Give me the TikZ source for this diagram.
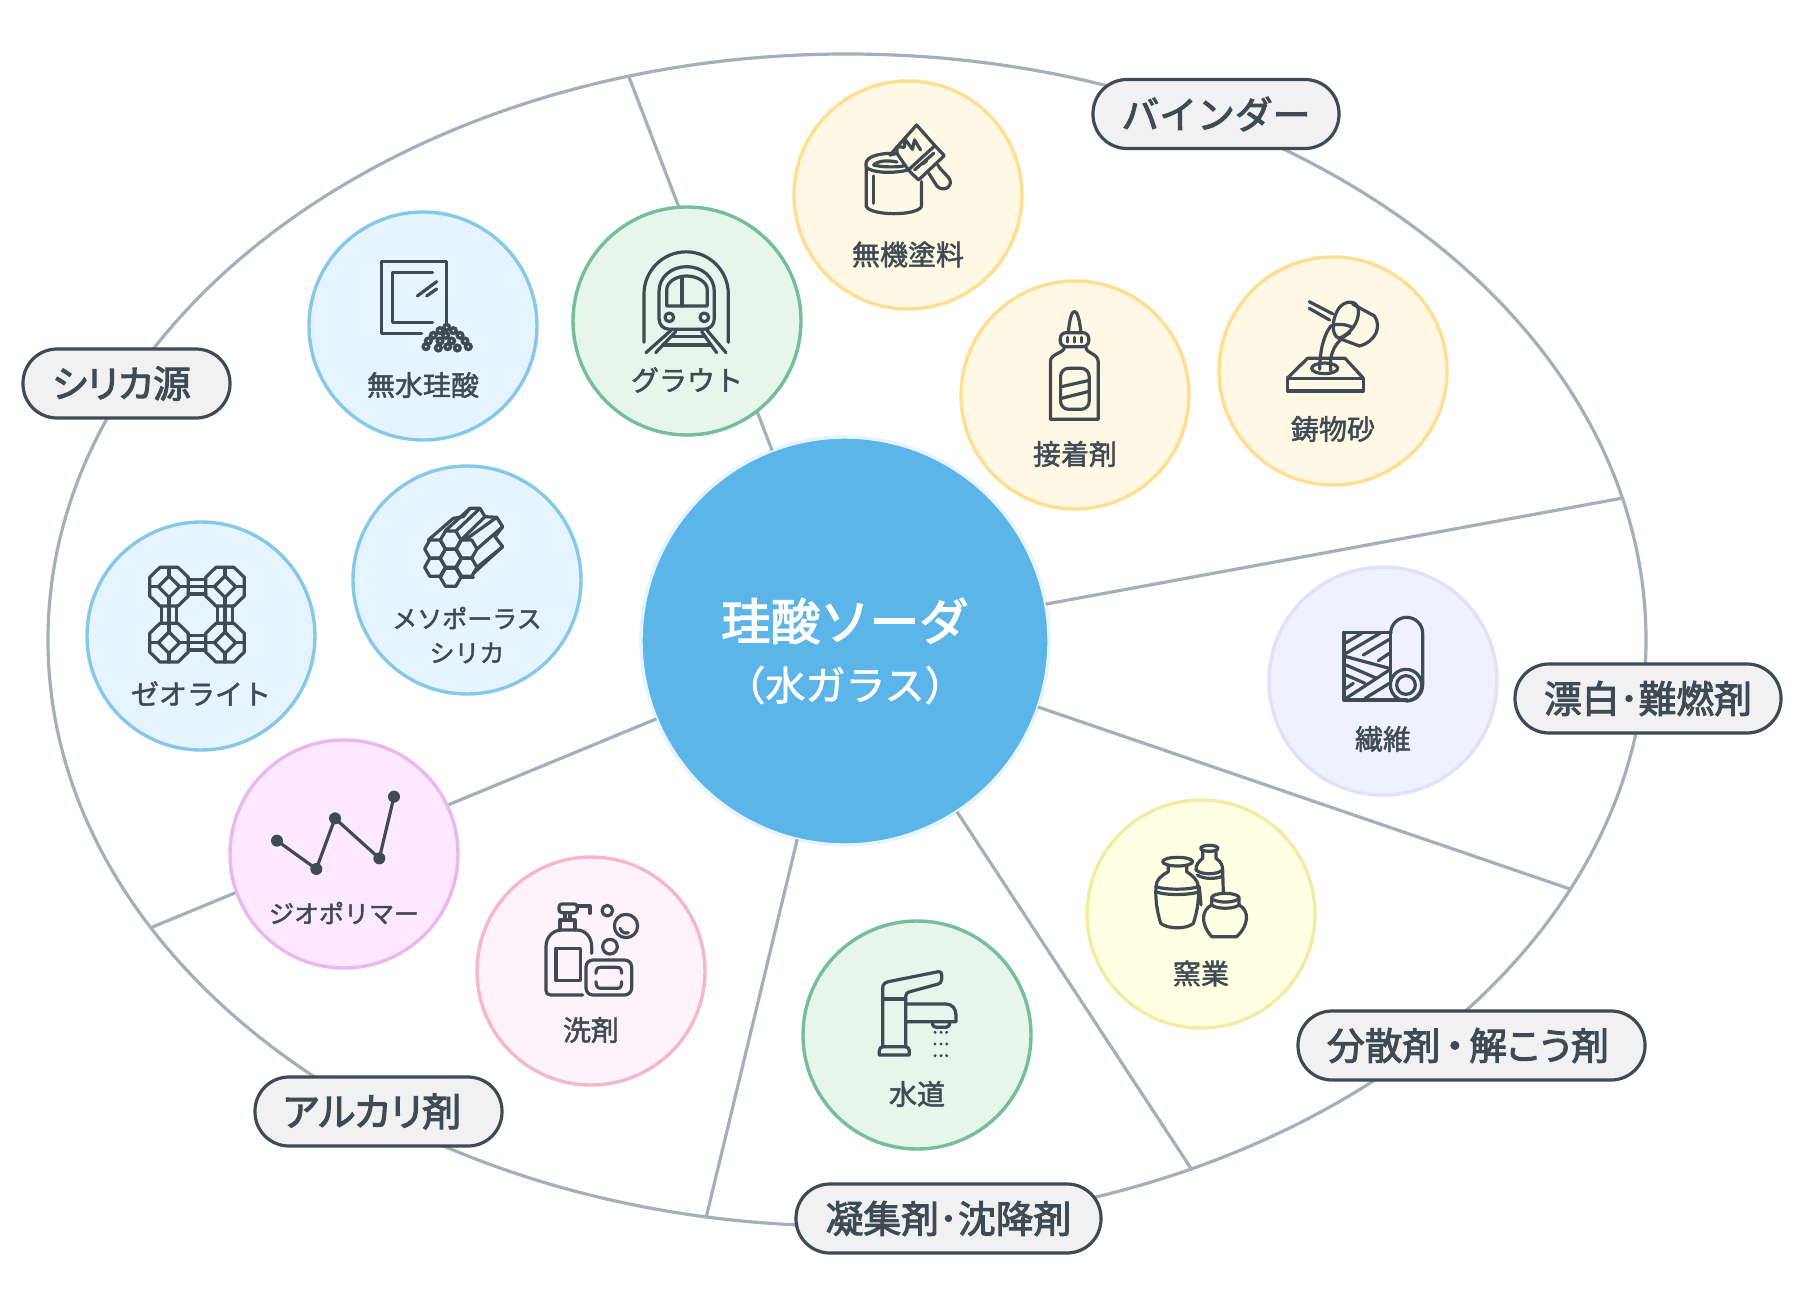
\documentclass[tikz,border=0pt]{standalone}
\usepackage{fontspec}
\newfontfamily\jp[FakeBold=2.6]{Noto Sans CJK JP}
\newfontfamily\jpk[FakeBold=2.6,RawFeature=+palt]{Noto Sans CJK JP}
\newfontfamily\jpr[FakeBold=1.7]{Noto Sans CJK JP}
\definecolor{ink}{HTML}{3F4B54}
\definecolor{rule}{HTML}{A3B0B9}
\definecolor{bF}{HTML}{E6F4FF}\definecolor{bS}{HTML}{85C9EA}
\definecolor{gF}{HTML}{E6F6EA}\definecolor{gS}{HTML}{74BF99}
\definecolor{yF}{HTML}{FFF8E5}\definecolor{yS}{HTML}{FFDF8F}
\definecolor{lF}{HTML}{F0F0FE}\definecolor{lS}{HTML}{E2E0FA}
\definecolor{pF}{HTML}{FFFFE4}\definecolor{pS}{HTML}{F2ECA4}
\definecolor{mF}{HTML}{FDE9FF}\definecolor{mS}{HTML}{EAB8EE}
\definecolor{kF}{HTML}{FEF3F9}\definecolor{kS}{HTML}{F5B6CE}
\definecolor{cF}{HTML}{5CB5E8}
\definecolor{pillF}{HTML}{F1F1F1}
\tikzset{
  disc/.style 2 args={circle,draw=#2,fill=#1,line width=3.4pt,minimum size=228pt,inner sep=0pt,outer sep=0pt},
  pill/.style={rounded corners=34pt,draw=ink,fill=pillF,line width=3.2pt,text=ink,inner sep=0pt,outer sep=0pt,minimum height=69pt,font=\jp\fontsize{37.8}{44}\selectfont},
  pillk/.style={pill,font=\jpk\fontsize{37.8}{44}\selectfont},
  cap28/.style={text=ink,inner sep=0pt,font=\jpr\fontsize{28}{34}\selectfont},
  cap25/.style={text=ink,inner sep=0pt,font=\jpr\fontsize{25}{30}\selectfont},
  divider/.style={draw=rule,line width=3.2pt},
  iconset/.style={shift={(#1)},scale=1/3,line width=3.2pt,draw=ink,line cap=round,line join=round},
  iconwide/.style={shift={(#1)},xscale=0.40816,yscale=1/3,line width=3.2pt,draw=ink,line cap=round,line join=round},
}
\begin{document}
\begin{tikzpicture}[x=1pt,y=-1pt]
\useasboundingbox (0,0) rectangle (1800,1306);
\fill[white] (0,0) rectangle (1800,1306);
% ring
\draw[divider] (847,640) ellipse [x radius=799,y radius=586];
\coordinate (r1) at (629,77);
\coordinate (r2) at (1623,498);
\coordinate (r3) at (1570,889);
\coordinate (r4) at (1192,1170);
\coordinate (r5) at (706,1218);
\coordinate (r6) at (150,928);
% core
\node[circle,draw=bF,fill=cF,line width=3.4pt,minimum size=408pt,inner sep=0pt,outer sep=0pt] (core) at (845,641) {};
\foreach \r in {r1,r2,r3,r4,r5,r6} \draw[divider] (\r) -- (core);
% discs
\node[disc={yF}{yS}] (paint) at (908,195) {};
\node[disc={yF}{yS}] (glue) at (1075,395) {};
\node[disc={yF}{yS}] (cast) at (1333,371) {};
\node[disc={lF}{lS}] (fibre) at (1383,681) {};
\node[disc={pF}{pS}] (kiln) at (1201,914) {};
\node[disc={gF}{gS}] (water) at (917,1035) {};
\node[disc={kF}{kS}] (soap) at (591,971) {};
\node[disc={mF}{mS}] (geo) at (344,854) {};
\node[disc={bF}{bS}] (zeo) at (201,636) {};
\node[disc={bF}{bS}] (meso) at (467,580) {};
\node[disc={bF}{bS}] (anh) at (423,326) {};
\node[disc={gF}{gS}] (grout) at (687,321) {};
% disc captions
\node[cap28] (t1) at (908,254.5) {無機塗料};
\node[cap28] (t2) at (1075,454) {接着剤};
\node[cap28] (t3) at (1333,429) {鋳物砂};
\node[cap28] (t4) at (1383,739) {繊維};
\node[cap28] (t5) at (1201,973.5) {窯業};
\node[cap28] (t6) at (917,1094) {水道};
\node[cap28] (t7) at (591,1030) {洗剤};
\node[cap25] (t8) at (344,913) {ジオポリマー};
\node[cap28] (t9) at (201,693.5) {ゼオライト};
\node[cap25] (t10a) at (467,618) {メソポーラス};
\node[cap25] (t10b) at (467,653) {シリカ};
\node[cap28] (t11) at (423,385) {無水珪酸};
\node[cap28] (t12) at (687,380) {グラウト};
% core text
\node[text=white,inner sep=0pt,font=\jp\fontsize{49.5}{58}\selectfont] (c1) at (845,621) {珪酸ソーダ};
\node[text=white,inner sep=0pt,font=\jpr\fontsize{40}{48}\selectfont] (c2) at (845,685) {（水ガラス）};
% pills
\node[pill,minimum width=246pt] (pb) at (1216,114) {バインダー};
\node[pillk,minimum width=207pt] (ps) at (126.5,383.5) {シリカ源\kern10pt};
\node[pill,minimum width=266pt] (ph) at (1648,698.5) {漂白･難燃剤};
\node[pillk,minimum width=347pt] (pd) at (1471.5,1045.5) {分散剤\kern5pt・\kern5pt解こう剤\kern7pt};
\node[pillk,minimum width=247pt,font=\jpk\fontsize{39}{44}\selectfont] (pa) at (378.5,1111.5) {アルカリ剤\kern13pt};
\node[pill,minimum width=305pt] (pg) at (948.5,1218.5) {凝集剤･沈降剤};
% --- icon: anhydrous
\begin{scope}[iconset={300,210}]
\draw (365,370)--(245,370)--(245,155)--(440,155)--(440,340);
\draw (398,187)--(277,187)--(277,337)--(398,337);
\draw (352,258)--(410,215) (380,258)--(410,237);
\foreach \x/\y in {440/352,420/362,460/362,400/376,437/376,480/376,385/393,420/393,455/393,495/393,378/410,415/414,443/410,472/414,505/410}{
  \fill[ink] (\x,\y) circle (14);}
\foreach \x/\y in {440/352,420/362,460/362,400/376,437/376,480/376,385/393,420/393,455/393,495/393,378/410,415/414,443/410,472/414,505/410}{
  \fill[bF] (\x,\y) circle (3);}
\end{scope}
% --- icon: grout
\begin{scope}[iconset={300,210}]
\draw (1032,397)--(1032,252) arc[start angle=180,end angle=360,radius=126.5]--(1285,397);
\draw (1110,358) .. controls (1090,358) and (1077,345) .. (1077,325)--(1077,245) .. controls (1077,200) and (1115,170) .. (1160,170) .. controls (1205,170) and (1243,200) .. (1243,245)--(1243,325) .. controls (1243,345) and (1230,358) .. (1210,358)--cycle;
\draw (1100,288)--(1222,288)--(1222,240) .. controls (1222,215) and (1190,198) .. (1160,198) .. controls (1130,198) and (1100,215) .. (1100,240)--cycle;
\draw (1146,200)--(1146,288);
\draw (1108,322) circle (13) (1213,322) circle (13);
\draw (1112,362)--(1038,428) (1127,365)--(1067,428) (1205,365)--(1250,428) (1222,362)--(1278,428);
\draw (1112,380)--(1212,380) (1088,405)--(1232,405);
\end{scope}
% --- icon: paint
\begin{scope}[iconwide={790,90}]
\draw (187,232)--(187,350) .. controls (200,378) and (310,378) .. (322,350)--(322,275);
\draw (187,232) .. controls (180,205) and (205,192) .. (245,190);
\draw (187,232) .. controls (200,248) and (250,252) .. (290,240);
\draw (205,225) .. controls (215,212) and (240,210) .. (262,216);
\draw (205,225) .. controls (225,232) and (260,232) .. (278,228);
\draw (205,258)--(205,340);
\draw (245,195)--(310,105)--(355,167);
\draw (290,240)--(355,167)--(378,197)--(315,270)--cycle;
\draw (245,195)--(262,190)--(262,170)--(280,172)--(282,148)--(300,178)--(305,150)--(320,180);
\draw (262,190)--(290,240);
\draw (305,240)--(352,190) (325,222)--(335,212);
\draw (340,250)--(360,288) .. controls (372,305) and (398,295) .. (392,270) .. controls (388,258) and (372,245) .. (362,225);
\end{scope}
% --- icon: glue
\begin{scope}[iconwide={790,90}]
\draw (682,728) .. controls (684,700) and (688,665) .. (697,665) .. controls (706,665) and (710,700) .. (713,728);
\draw[rounded corners=6pt] (662,728) rectangle (732,770);
\draw (680,742)--(680,756) (697,742)--(697,756) (714,742)--(714,756);
\draw (672,772) .. controls (672,790) and (638,790) .. (638,815)--(638,988)--(755,988)--(755,815) .. controls (755,790) and (725,790) .. (725,772);
\draw[rounded corners=8pt] (663,835) rectangle (733,958);
\draw (665,890)--(730,872) (665,925)--(730,905);
\end{scope}
% --- icon: casting
\begin{scope}[iconwide={790,90}]
\draw (1218,865) rectangle (1405,903);
\draw (1218,865)--(1268,805)--(1360,805)--(1405,865);
\draw (1310,835) ellipse [x radius=32,y radius=16];
\draw (1298,838) .. controls (1298,790) and (1305,740) .. (1325,708) .. controls (1340,700) and (1360,702) .. (1378,712);
\draw (1325,842) .. controls (1320,790) and (1335,755) .. (1372,728);
\draw (1345,745) .. controls (1325,735) and (1328,690) .. (1342,660) .. controls (1352,635) and (1385,625) .. (1392,655) .. controls (1396,680) and (1385,725) .. (1345,745);
\draw (1378,642)--(1432,678) .. controls (1450,710) and (1435,755) .. (1395,768)--(1345,745);
\draw (1272,635)--(1330,672) (1272,655)--(1322,690);
\end{scope}
% --- icon: fibre
\begin{scope}[iconset={1320,600}]
\draw (72,97)--(212,97) (72,97)--(72,300)--(260,300);
\draw (212,100) arc[start angle=180,end angle=360,radius=48]--(308,255) arc[start angle=0,end angle=90,radius=48];
\draw (212,100)--(212,255);
\draw (258,255) circle (47);
\draw (258,255) circle (28);
\draw (78,128)--(125,100) (78,160)--(180,100) (130,165)--(208,118) (175,182)--(208,160);
\draw (78,170)--(208,205) (78,195)--(170,235) (78,225)--(135,250);
\draw (78,295)--(208,210) (135,295)--(208,250) (78,265)--(100,250);
\end{scope}
% --- icon: kiln
\begin{scope}[iconset={840,830}]
% back bottle
\draw (1108,55) ellipse [x radius=26,y radius=9];
\draw (1088,64)--(1088,85) .. controls (1075,95) and (1068,105) .. (1068,120);
\draw (1128,64)--(1128,85) .. controls (1142,95) and (1148,105) .. (1148,120)--(1150,190);
\draw (1068,120) .. controls (1085,135) and (1130,135) .. (1148,120);
\draw (1072,135) .. controls (1090,148) and (1130,148) .. (1148,138);
\draw (1078,170)--(1083,225);
% big vase
\draw (1013,95) ellipse [x radius=45,y radius=13];
\draw (985,108)--(985,125) .. controls (965,135) and (948,150) .. (948,170) .. controls (945,220) and (955,255) .. (962,280) .. controls (985,298) and (1040,298) .. (1060,280) .. controls (1068,255) and (1078,220) .. (1075,170) .. controls (1075,150) and (1055,135) .. (1040,125)--(1040,108);
\draw (948,170) .. controls (975,180) and (1045,180) .. (1075,170);
\draw (950,186) .. controls (975,196) and (1045,196) .. (1075,186);
% pot
\draw[fill=pF] (1115,225) .. controls (1085,240) and (1080,280) .. (1115,320)--(1190,320) .. controls (1228,285) and (1228,240) .. (1197,225)--cycle;
\draw[fill=pF] (1115,203)--(1115,225) .. controls (1130,238) and (1180,238) .. (1197,225)--(1197,203);
\draw[fill=pF] (1156,203) ellipse [x radius=41,y radius=13];
\end{scope}
% --- icon: tap
\begin{scope}[iconset={840,830}]
\draw (128,650)--(128,475) .. controls (128,462) and (135,458) .. (145,455)--(295,425) .. controls (303,424) and (305,428) .. (305,435)--(305,448) .. controls (305,456) and (300,460) .. (295,462)--(210,485) .. controls (200,488) and (197,492) .. (197,500)--(197,650);
\draw (128,507)--(197,507);
\draw (197,522)--(318,522) .. controls (338,522) and (348,538) .. (348,555)--(348,575)--(197,575);
\draw (277,577) .. controls (277,590) and (285,592) .. (290,592)--(318,592) .. controls (326,592) and (330,585) .. (330,577);
\draw (130,650)--(195,650) .. controls (203,650) and (208,655) .. (208,662)--(208,675)--(118,675)--(118,662) .. controls (118,655) and (122,650) .. (130,650);
\foreach \x in {285,303,320}\foreach \y in {607,642,677}\fill[ink] (\x,\y) circle (5);
\end{scope}
% --- icon: geopolymer
\begin{scope}[iconset={240,760}]
\draw (111,242)--(229,327)--(285,175)--(418,295)--(462,110);
\foreach \x/\y in {111/242,229/327,285/175,418/295,462/110}\fill[ink] (\x,\y) circle (18);
\end{scope}
% --- icon: detergent
\begin{scope}[iconset={240,760}]
\draw (1028,705)--(932,705) .. controls (923,705) and (918,700) .. (918,692)--(918,560) .. controls (918,530) and (940,510) .. (965,510)--(1010,510) .. controls (1035,510) and (1055,530) .. (1055,560)--(1055,580);
\draw (948,565) rectangle (1022,662);
\draw (960,510)--(960,480)--(1005,480)--(1005,510);
\draw (975,460)--(975,480) (990,460)--(990,480);
\draw[rounded corners=3pt] (957,432) rectangle (1012,458);
\draw (1012,438)--(1050,438)--(1050,460);
\draw (1102,452) circle (16) (1158,498) circle (35) (1110,560) circle (22);
\draw (1140,505) .. controls (1145,518) and (1155,522) .. (1165,518);
\draw[rounded corners=7pt] (1038,600) rectangle (1175,705);
\draw (1068,640) .. controls (1068,628) and (1072,622) .. (1082,622)--(1132,622) .. controls (1142,622) and (1145,630) .. (1145,640);
\draw (1068,665) .. controls (1068,678) and (1072,685) .. (1082,685)--(1132,685) .. controls (1142,685) and (1145,678) .. (1145,665);
\end{scope}
% --- icon: zeolite
\begin{scope}[iconset={110,490}]
\foreach \cx/\cy in {177/290,345/290,177/458,345/458}{
\begin{scope}[shift={(\cx,\cy)}]
\draw (-27,-58)--(27,-58)--(58,-28)--(58,28)--(27,58)--(-27,58)--(-58,28)--(-58,-28)--cycle;
\draw (0,-32)--(32,0)--(0,32)--(-32,0)--cycle;
\draw (0,-58)--(0,-32) (0,32)--(0,58) (-58,0)--(-32,0) (32,0)--(58,0);
\end{scope}}
\draw (235,268)--(287,268) (235,290)--(287,290) (235,312)--(287,312);
\draw (235,436)--(287,436) (235,458)--(287,458) (235,480)--(287,480);
\draw (155,348)--(155,400) (177,348)--(177,400) (199,348)--(199,400);
\draw (323,348)--(323,400) (345,348)--(345,400) (367,348)--(367,400);
\end{scope}
% --- icon: mesoporous
\begin{scope}[iconset={110,490}]
\foreach \cx/\cy in {975/177,975/232,1022/150,1022/205,1022/262,1070/177,1070/232}{
\draw (\cx-31,\cy)--(\cx-15.5,\cy-27)--(\cx+15.5,\cy-27)--(\cx+31,\cy)--(\cx+15.5,\cy+27)--(\cx-15.5,\cy+27)--cycle;}
\draw (955,150)--(1030,85)--(1060,80)--(1080,55)--(1110,55)--(1125,80)--(1160,82)--(1178,110)--(1155,140)--(1178,170)--(1090,250);
\draw (1005,123)--(1080,55) (1038,123)--(1110,55) (1053,150)--(1125,80) (1065,150)--(1160,82) (1101,177)--(1178,110) (1101,232)--(1178,170) (1053,262)--(1090,262);
\end{scope}
\end{tikzpicture}
\end{document}
